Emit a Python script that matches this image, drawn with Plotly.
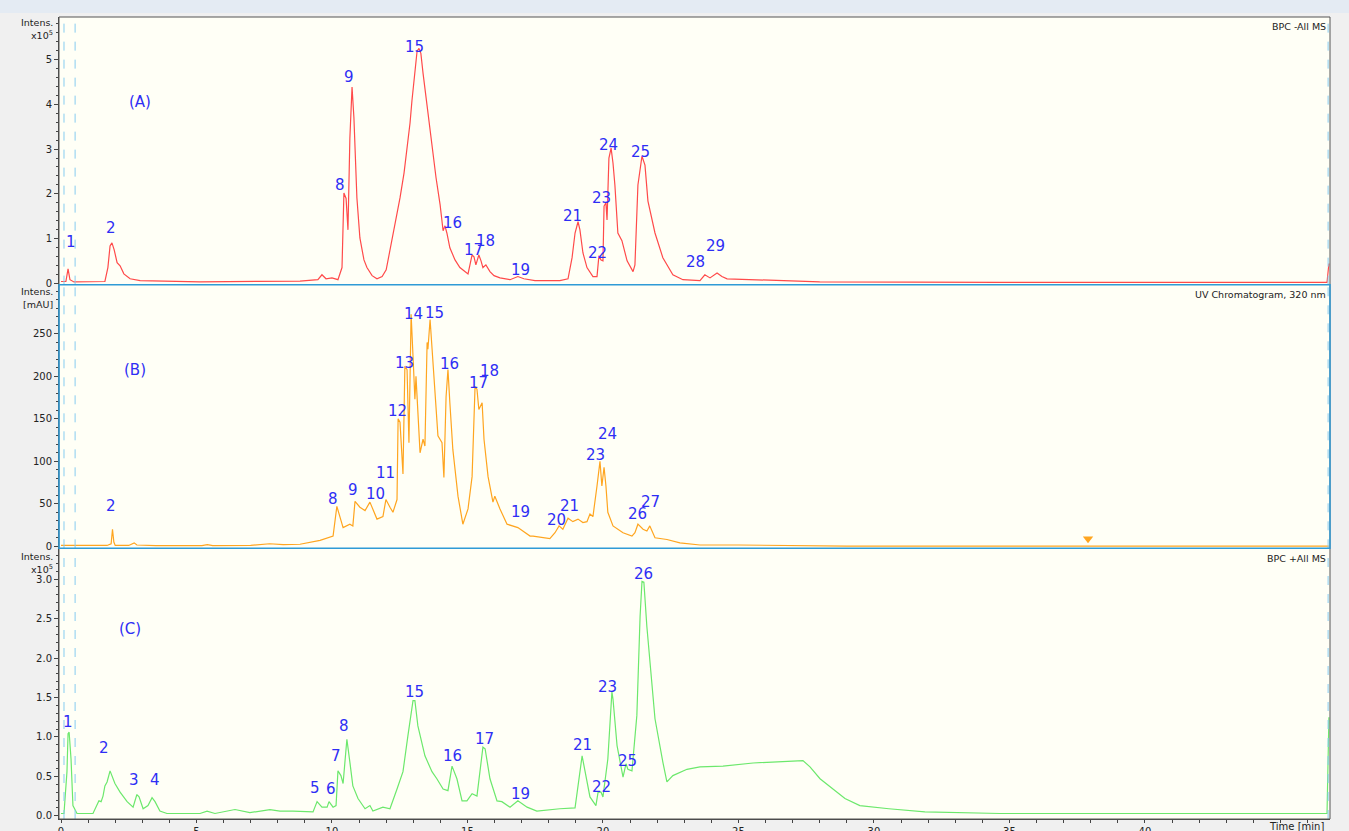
import plotly.graph_objects as go

# ---------------- DATA ----------------
# Panel A: BPC -All MS (intensity x10^5)
A_time = [0.0, 0.18, 0.26, 0.33, 0.48, 1.62, 1.73, 1.81, 1.88, 1.96, 2.07, 2.18, 2.32, 2.55, 2.92, 5.13, 8.82,
          9.48, 9.63, 9.78, 10.0, 10.22, 10.37, 10.44, 10.52, 10.59, 10.66, 10.74, 10.81, 10.92, 11.03, 11.18,
          11.29, 11.48, 11.66, 11.85, 12.0, 12.14, 12.32, 12.51, 12.66, 12.77, 12.88, 12.95, 13.06, 13.14, 13.21,
          13.28, 13.36, 13.43, 13.54, 13.69, 13.84, 13.99, 14.1, 14.17, 14.24, 14.35, 14.54, 14.72, 15.02, 15.17,
          15.24, 15.31, 15.42, 15.5, 15.57, 15.68, 15.83, 15.98, 16.2, 16.57, 16.86, 17.08, 17.49, 18.41, 18.71,
          18.86, 18.97, 19.08, 19.15, 19.26, 19.41, 19.63, 19.78, 19.85, 19.93, 20.0, 20.04, 20.11, 20.15, 20.22,
          20.3, 20.37, 20.44, 20.55, 20.7, 20.89, 21.11, 21.18, 21.29, 21.44, 21.55, 21.66, 21.92, 22.21, 22.58,
          22.95, 23.58, 23.76, 23.95, 24.21, 24.39, 24.58, 25.54, 26.53, 28.0, 34.65, 46.72, 46.79]
A_int = [0.05, 0.05, 0.33, 0.09, 0.04, 0.05, 0.36, 0.84, 0.91, 0.76, 0.47, 0.4, 0.22, 0.11, 0.07, 0.04, 0.06,
         0.09, 0.2, 0.11, 0.13, 0.09, 0.36, 2.02, 1.9, 1.2, 3.24, 4.38, 3.69, 1.91, 1.02, 0.53,
         0.36, 0.18, 0.11, 0.16, 0.31, 0.73, 1.29, 1.91, 2.47, 3.02, 3.58, 4.07, 4.8, 5.18, 5.24,
         5.13, 4.69, 4.36, 3.73, 3.02, 2.36, 1.76, 1.18, 1.29, 1.13, 0.8, 0.53, 0.36, 0.22, 0.64,
         0.6, 0.42, 0.64, 0.51, 0.36, 0.42, 0.27, 0.18, 0.13, 0.09, 0.16, 0.11, 0.07, 0.07, 0.11,
         0.58, 1.13, 1.38, 1.2, 0.69, 0.36, 0.16, 0.16, 0.62, 0.53, 0.51, 1.73, 1.8, 1.42, 2.8,
         3.02, 2.69, 2.2, 1.13, 0.96, 0.51, 0.27, 0.42, 2.2, 2.84, 2.64, 1.84, 1.13, 0.58, 0.2,
         0.09, 0.07, 0.2, 0.13, 0.24, 0.16, 0.11, 0.09, 0.07, 0.04, 0.03, 0.03, 0.45]
A_labels = ["1", "2", "8", "9", "15", "16", "17", "18", "19", "21", "22", "23", "24", "25", "28", "29"]
A_label_t = [0.37, 1.85, 10.3, 10.63, 13.06, 14.43, 15.24, 15.68, 16.97, 18.86, 19.78, 19.96, 20.22, 21.37, 23.43, 24.17]
A_label_v = [0.93, 1.24, 2.2, 4.6, 5.27, 1.36, 0.76, 0.96, 0.31, 1.51, 0.69, 1.91, 3.09, 2.93, 0.49, 0.84]

# Panel B: UV Chromatogram, 320 nm (mAU)
B_time = [0.0, 1.7, 1.85, 1.9, 1.95, 2.0, 2.5, 2.7, 2.8, 3.5, 5.2, 5.4, 5.6, 7.0, 7.7, 8.2, 8.82,
          9.56, 10.04, 10.18, 10.41, 10.66, 10.77, 10.85, 11.03, 11.22, 11.4, 11.66, 11.88, 11.99, 12.14, 12.25,
          12.4, 12.44, 12.51, 12.62, 12.69, 12.77, 12.84, 12.92, 12.99, 13.06, 13.1, 13.25, 13.36, 13.43, 13.51,
          13.54, 13.62, 13.69, 13.8, 13.91, 14.06, 14.13, 14.21, 14.28, 14.35, 14.46, 14.65, 14.83, 15.02, 15.17,
          15.28, 15.35, 15.42, 15.54, 15.61, 15.76, 15.94, 16.01, 16.2, 16.46, 16.86, 17.31, 17.42, 18.04, 18.23,
          18.38, 18.52, 18.71, 18.89, 19.08, 19.26, 19.41, 19.52, 19.63, 19.78, 19.89, 19.96, 20.04, 20.11, 20.18,
          20.37, 20.74, 21.07, 21.18, 21.29, 21.48, 21.62, 21.73, 21.92, 22.36, 22.84, 23.58, 25.0, 28.5, 29.0, 46.8]
B_int = [1.0, 1.0, 3, 20, 5, 1, 1, 4, 1.5, 0.8, 0.8, 2, 0.8, 1, 3, 2, 2.4,
         7, 12, 47, 22, 26, 24, 53, 46, 42, 52, 32, 35, 55, 46, 40,
         55, 150, 146, 85, 212, 208, 122, 273, 224, 173, 200, 110, 126, 118, 240,
         232, 267, 235, 185, 130, 122, 81, 176, 208, 169, 114, 59, 26, 44, 82,
         188, 185, 161, 169, 126, 82, 52, 59, 44, 26, 22, 12, 12, 9, 16,
         24, 20, 33, 29, 32, 28, 29, 38, 35, 71, 100, 71, 93, 71, 40,
         24, 16, 12, 16, 26, 20, 18, 24, 10, 8, 4, 1.5, 1.5, 1.2, 0.3, 0.3]
B_labels = ["2", "8", "9", "10", "11", "12", "13", "14", "15", "16", "17", "18", "19", "20", "21", "23", "24", "26", "27"]
B_label_t = [1.85, 10.04, 10.77, 11.62, 11.96, 12.4, 12.66, 13.0, 13.8, 14.32, 15.39, 15.83, 16.94, 18.27, 18.75, 19.74, 20.15, 21.29, 21.77]
B_label_v = [47, 56, 66, 62, 86, 159, 216, 273, 275, 214, 192, 206, 40, 31, 47, 108, 132, 38, 52]
B_marker_t = [37.9]
B_marker_v = [9]

# Panel C: BPC +All MS (intensity x10^5)
C_time = [0.0, 0.11, 0.22, 0.26, 0.3, 0.37, 0.44, 0.59, 1.18, 1.33, 1.4, 1.48, 1.55, 1.62, 1.7, 1.81, 1.88,
          1.99, 2.18, 2.44, 2.66, 2.8, 2.88, 3.03, 3.21, 3.36, 3.47, 3.65, 3.91, 5.13, 5.39, 5.68, 6.42, 6.97,
          7.71, 8.08, 8.56, 9.3, 9.45, 9.63, 9.82, 9.89, 10.04, 10.15, 10.22, 10.33, 10.41, 10.55, 10.66, 10.77,
          10.96, 11.22, 11.4, 11.51, 11.88, 12.14, 12.4, 12.62, 12.8, 12.99, 13.06, 13.17, 13.43, 13.69, 13.87,
          14.1, 14.28, 14.43, 14.61, 14.8, 14.98, 15.17, 15.35, 15.46, 15.57, 15.65, 15.83, 16.09, 16.27, 16.57,
          16.86, 17.2, 17.56, 18.41, 18.97, 19.23, 19.52, 19.74, 19.82, 19.93, 20.0, 20.18, 20.33, 20.37, 20.52,
          20.74, 20.85, 20.92, 21.07, 21.25, 21.37, 21.44, 21.51, 21.62, 21.92, 22.21, 22.36, 22.58, 23.1, 23.58,
          24.43, 25.54, 26.27, 27.38, 27.64, 28.01, 28.93, 29.48, 30.55, 31.88, 34.65, 46.72, 46.79]
C_int = [0.03, 0.03, 0.56, 1.04, 1.06, 0.72, 0.13, 0.03, 0.03, 0.13, 0.19, 0.18, 0.25, 0.38, 0.43, 0.57, 0.51,
         0.41, 0.3, 0.18, 0.11, 0.27, 0.24, 0.09, 0.13, 0.23, 0.18, 0.06, 0.03, 0.03, 0.06, 0.03, 0.08, 0.04,
         0.08, 0.06, 0.06, 0.05, 0.18, 0.11, 0.11, 0.18, 0.11, 0.13, 0.57, 0.51, 0.41, 0.97, 0.68, 0.38,
         0.22, 0.09, 0.13, 0.06, 0.11, 0.09, 0.34, 0.56, 1.01, 1.46, 1.46, 1.14, 0.76, 0.56, 0.47,
         0.34, 0.32, 0.63, 0.47, 0.19, 0.19, 0.28, 0.25, 0.56, 0.87, 0.85, 0.47, 0.19, 0.18, 0.11,
         0.19, 0.11, 0.06, 0.09, 0.1, 0.76, 0.24, 0.13, 0.3, 0.3, 0.24, 0.72, 1.57, 1.48, 0.89,
         0.49, 0.66, 0.59, 0.57, 1.27, 2.53, 2.97, 2.96, 2.4, 1.23, 0.68, 0.43, 0.51, 0.59, 0.62,
         0.63, 0.67, 0.68, 0.7, 0.62, 0.47, 0.22, 0.13, 0.09, 0.05, 0.03, 0.03, 1.25]
C_labels = ["1", "2", "3", "4", "5", "6", "7", "8", "15", "16", "17", "19", "21", "22", "23", "25", "26"]
C_label_t = [0.26, 1.59, 2.69, 3.47, 9.37, 9.96, 10.15, 10.44, 13.03, 14.46, 15.61, 16.94, 19.26, 19.96, 20.18, 20.92, 21.51]
C_label_v = [1.19, 0.86, 0.46, 0.46, 0.35, 0.34, 0.76, 1.14, 1.57, 0.76, 0.97, 0.28, 0.9, 0.37, 1.63, 0.7, 3.06]

panel_names = ["(A)", "(B)", "(C)"]
panel_titles = ["BPC -All MS", "UV Chromatogram, 320 nm", "BPC +All MS"]
x_ticks = [0, 5, 10, 15, 20, 25, 30, 35, 40]
A_yticks = [0, 1, 2, 3, 4, 5]
B_yticks = [0, 50, 100, 150, 200, 250]
C_yticks = [0.0, 0.5, 1.0, 1.5, 2.0, 2.5, 3.0]

# ---------------- FIGURE ----------------
RED = "#FF4A4A"
ORANGE = "#FFA51F"
GREEN = "#6CE86C"
LBL = "#2E2EF5"
FONT = "DejaVu Sans"
XR = [-0.074, 46.83]

fig = go.Figure()
fig.add_trace(go.Scatter(x=A_time, y=A_int, mode="lines", line=dict(color=RED, width=1.2),
                         xaxis="x", yaxis="y", showlegend=False, hoverinfo="skip"))
fig.add_trace(go.Scatter(x=B_time, y=B_int, mode="lines", line=dict(color=ORANGE, width=1.2),
                         xaxis="x2", yaxis="y2", showlegend=False, hoverinfo="skip"))
fig.add_trace(go.Scatter(x=B_marker_t, y=B_marker_v, mode="markers",
                         marker=dict(symbol="triangle-down", size=9, color=ORANGE),
                         xaxis="x2", yaxis="y2", showlegend=False, hoverinfo="skip"))
fig.add_trace(go.Scatter(x=C_time, y=C_int, mode="lines", line=dict(color=GREEN, width=1.2),
                         xaxis="x3", yaxis="y3", showlegend=False, hoverinfo="skip"))

dA = [0.6663, 1.0]
dB = [0.3375, 0.6663]
dC = [0.0, 0.3375]

tickfont = dict(family=FONT, size=10, color="#222")
common_x = dict(range=XR, domain=[0, 1], showgrid=False, zeroline=False, fixedrange=True, automargin=False)
ycommon = dict(ticks="outside", ticklen=4, tickcolor="#444", tickfont=tickfont, showgrid=False,
               zeroline=False, showline=True, linecolor="#444", tickmode="array", automargin=False)
fig.update_layout(
    width=1349, height=831,
    margin=dict(l=59, r=19, t=17, b=12, autoexpand=False),
    paper_bgcolor="#F0F0F0",
    plot_bgcolor="#FFFFF6",
    xaxis=dict(**common_x, anchor="y", showticklabels=False, ticks=""),
    xaxis2=dict(**common_x, anchor="y2", matches="x", showticklabels=False, ticks=""),
    xaxis3=dict(**common_x, anchor="y3", matches="x", tickmode="array", tickvals=x_ticks,
                ticks="outside", ticklen=3, tickcolor="#444", tickfont=tickfont,
                minor=dict(dtick=1, tick0=0, ticks="outside", ticklen=3, tickcolor="#444"),
                showline=True, linecolor="#444", linewidth=1),
    yaxis=dict(**ycommon, domain=dA, range=[-0.02, 5.94], anchor="x", tickvals=A_yticks,
               minor=dict(tick0=0, dtick=0.2, ticks="outside", ticklen=2, tickcolor="#444")),
    yaxis2=dict(**ycommon, domain=dB, range=[-2.4, 308], anchor="x2", tickvals=B_yticks,
                minor=dict(tick0=0, dtick=10, ticks="outside", ticklen=2, tickcolor="#444")),
    yaxis3=dict(**ycommon, domain=dC, range=[-0.04, 3.39], anchor="x3", tickvals=C_yticks,
                tickformat=".1f",
                minor=dict(tick0=0, dtick=0.1, ticks="outside", ticklen=2, tickcolor="#444")),
)

annotations = []
def add_labels(labels, ts, vs, xr, yr, size=15):
    for s, t, v in zip(labels, ts, vs):
        annotations.append(dict(text=s, x=t, y=v, xref=xr, yref=yr, showarrow=False,
                                font=dict(family=FONT, size=size, color=LBL),
                                xanchor="center", yanchor="middle"))

add_labels(A_labels, A_label_t, A_label_v, "x", "y")
add_labels(B_labels, B_label_t, B_label_v, "x2", "y2")
add_labels(C_labels, C_label_t, C_label_v, "x3", "y3")

# panel letters
add_labels([panel_names[0]], [2.92], [4.04], "x", "y")
add_labels([panel_names[1]], [2.73], [208], "x2", "y2")
add_labels([panel_names[2]], [2.55], [2.37], "x3", "y3")

# titles top-right of each panel
for title, dom in zip(panel_titles, [dA, dB, dC]):
    annotations.append(dict(text=title, x=0.9985, y=dom[1] - 0.003, xref="paper", yref="paper",
                            showarrow=False, xanchor="right", yanchor="top",
                            font=dict(family=FONT, size=9.5, color="#222")))

# y-axis unit labels
def px_to_paper_y(py):
    return (819 - py) / 802.0
for texts, ys in [(["Intens.", "x10<sup>5</sup>"], [22, 35]),
                  (["Intens.", "[mAU]"], [291, 304]),
                  (["Intens.", "x10<sup>5</sup>"], [556, 569])]:
    for tx, py in zip(texts, ys):
        annotations.append(dict(text=tx, x=-0.003, y=px_to_paper_y(py), xref="paper", yref="paper",
                                showarrow=False, xanchor="right", yanchor="middle",
                                font=dict(family=FONT, size=9.5, color="#222")))

annotations.append(dict(text="Time [min]", x=0.997, y=px_to_paper_y(826), xref="paper", yref="paper",
                        showarrow=False, xanchor="right", yanchor="middle",
                        font=dict(family=FONT, size=10, color="#222")))
fig.update_layout(annotations=annotations)

shapes = []
# window top band
shapes.append(dict(type="rect", xref="paper", yref="paper", x0=-59 / 1271, x1=1290 / 1271,
                   y0=1 + 4 / 802, y1=1 + 17 / 802, fillcolor="#E4EBF3", line=dict(width=0), layer="below"))
# dashed marker lines
for t in [0.11, 0.52, 46.76]:
    for xr, dom in [("x", dA), ("x2", dB), ("x3", dC)]:
        shapes.append(dict(type="line", xref=xr, yref="paper", x0=t, x1=t, y0=dom[0], y1=dom[1],
                           line=dict(color="#86CCF0", width=1, dash="dash"), layer="above"))
# outer frame
shapes.append(dict(type="rect", xref="paper", yref="paper", x0=0, x1=1, y0=0, y1=1,
                   line=dict(color="#555", width=1), layer="above"))
# panel B blue frame
shapes.append(dict(type="rect", xref="paper", yref="paper", x0=0, x1=1, y0=dB[0], y1=dB[1],
                   line=dict(color="#2F9BD6", width=1.5), layer="above"))
fig.update_layout(shapes=shapes)

fig.write_html("out.html", config={"displayModeBar": False},
               post_script="document.body.style.margin='0px';document.body.style.overflow='hidden';")
